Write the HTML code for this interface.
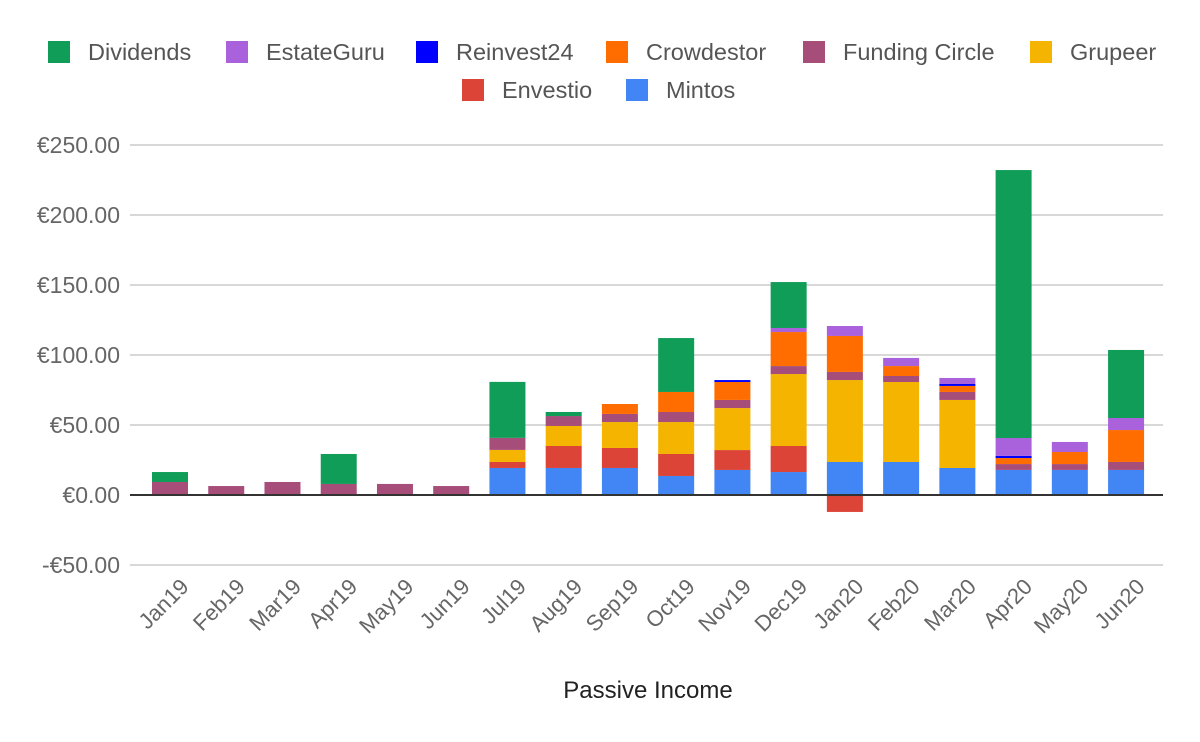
<!DOCTYPE html>
<html><head><meta charset="utf-8"><style>
body{margin:0;background:#fff;}
svg{display:block;font-family:"Liberation Sans",Arial,sans-serif;}
</style></head><body>
<svg id="chart" width="1200" height="742"></svg>
<script>
const months=["Jan19","Feb19","Mar19","Apr19","May19","Jun19","Jul19","Aug19","Sep19","Oct19","Nov19","Dec19","Jan20","Feb20","Mar20","Apr20","May20","Jun20"];
const seriesNames=["Mintos","Envestio","Grupeer","Funding Circle","Crowdestor","Reinvest24","EstateGuru","Dividends"];
const mintos=[0,0,0,0,0,0,19.3,19.3,19.3,13.6,17.9,16.4,23.6,23.6,19.3,17.9,17.9,17.9];
const envestio=[0,0,0,0,0,0,4.3,15.7,14.3,15.7,14.2,18.6,-12.1,0,0,0,0,0];
const grupeer=[0,0,0,0,0,0,8.6,14.3,18.5,22.8,30,51.4,58.5,57.1,48.6,0,0,0];
const fundingCircle=[9.3,6.4,9.3,7.9,7.9,6.4,8.6,7.1,5.8,7.2,5.8,5.7,5.8,4.3,5.7,4.2,4.2,5.7];
const crowdestor=[0,0,0,0,0,0,0,0,7.1,14.3,12.8,24.3,25.7,7.1,4.3,4.3,8.6,22.8];
const reinvest24=[0,0,0,0,0,0,0,0,0,0,1.4,0,0,0,1.4,1.5,0,0];
const estateGuru=[0,0,0,0,0,0,0,0,0,0,0,2.9,7.1,5.8,4.3,12.8,7.2,8.6];
const dividends=[7.1,0,0,21.4,0,0,40,2.9,0,38.5,0,32.8,0,0,0,191.4,0,48.6];
const yTicks=[-50,0,50,100,150,200,250];
const colors=["#4285f4","#db4437","#f4b400","#a64d79","#ff6d00","#0000ff","#a962dc","#0f9d58"];
const allSeries=[mintos,envestio,grupeer,fundingCircle,crowdestor,reinvest24,estateGuru,dividends];
const NS="http://www.w3.org/2000/svg";
const svg=document.getElementById("chart");
const x0=130,x1=1163;
function yScale(v){return 495-v*1.4;}
function xCenter(i){return 170+i*56.24;}
const bw=36;
function mk(tag,attrs,parent){const e=document.createElementNS(NS,tag);for(const k in attrs)e.setAttribute(k,attrs[k]);(parent||svg).appendChild(e);return e;}
yTicks.forEach(t=>{
 const g=mk("line",{x1:x0,x2:x1,y1:yScale(t),y2:yScale(t),stroke:t===0?"#333":"#ccc","stroke-width":t===0?2:1.5});
 
 
 const lbl=mk("text",{x:120,y:yScale(t)+8,"text-anchor":"end","font-size":23,fill:"#666"});
 lbl.textContent=(t<0?"-€":"€")+Math.abs(t).toFixed(2);
 
 
});
months.forEach((m,i)=>{
 let pos=0,neg=0;
 allSeries.forEach((s,k)=>{
  const v=s[i]; if(!v)return;
  let yTop,yBot;
  if(v>0){yBot=yScale(pos);pos+=v;yTop=yScale(pos);}else{yTop=yScale(neg);neg+=v;yBot=yScale(neg);}
  const r=mk("rect",{x:xCenter(i)-bw/2,y:yTop,width:bw,height:yBot-yTop,fill:colors[k]});
  
  
 });
 const tx=xCenter(i)+20,ty=588;
 const t=mk("text",{x:tx,y:ty,"text-anchor":"end","font-size":22,fill:"#666",transform:`rotate(-45 ${tx} ${ty})`});
 t.textContent=m;
 
 
});
const zl=mk("line",{x1:x0,x2:x1,y1:yScale(0),y2:yScale(0),stroke:"#333","stroke-width":2});


const legend=[["Dividends",7,48,52],["EstateGuru",6,226,52],["Reinvest24",5,416,52],["Crowdestor",4,606,52],["Funding Circle",3,803,52],["Grupeer",2,1030,52],["Envestio",1,462,90],["Mintos",0,626,90]];
legend.forEach(([name,k,x,y])=>{
 const g=mk("g",{});
 
 
 mk("rect",{x:x,y:y-11,width:22,height:22,fill:colors[k]},g);
 const t=mk("text",{x:x+40,y:y+8,"font-size":23.5,fill:"#555"},g);
 t.textContent=name;
});
const title=mk("text",{x:648,y:698,"text-anchor":"middle","font-size":24,fill:"#222"});
title.textContent="Passive Income";


</script>
</body></html>
